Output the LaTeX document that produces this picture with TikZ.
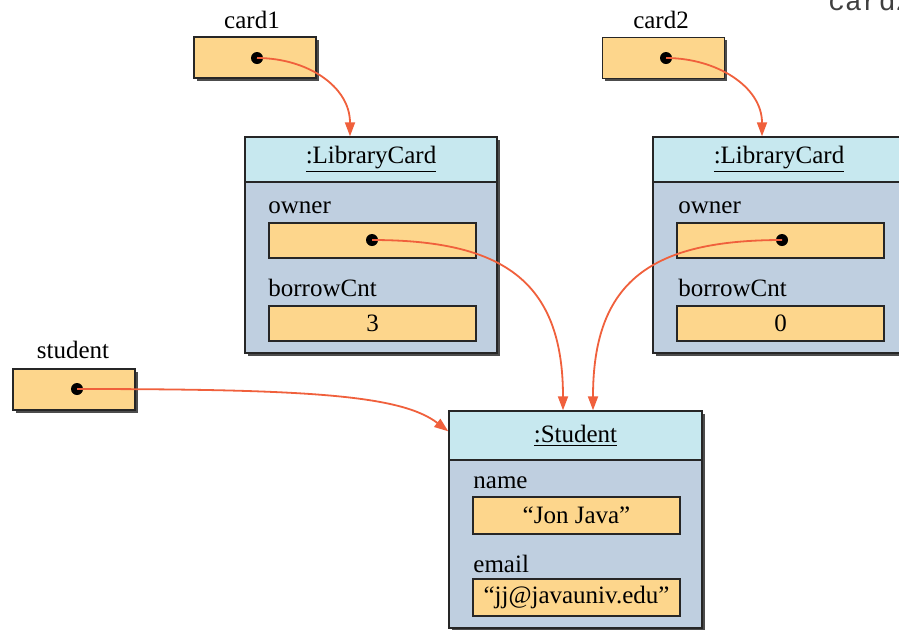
\documentclass[tikz,border=0pt]{standalone}
\usepackage{fontspec}
\setmainfont{Liberation Serif}
\setmonofont{Liberation Mono}
\usetikzlibrary{arrows.meta,shadows}
\definecolor{fieldc}{HTML}{FDD68C}
\definecolor{headc}{HTML}{C7E8EF}
\definecolor{bodyc}{HTML}{BFCFE0}
\definecolor{refc}{HTML}{F0603C}
\newcommand\myfs{\fontsize{12.5}{15}\selectfont}
\tikzset{
 shad/.style={drop shadow={shadow xshift=1.4pt,shadow yshift=-1.4pt,fill=black!70,opacity=1}},
 varbox/.style={draw=black!85,line width=0.7pt,fill=fieldc,minimum width=61pt,minimum height=20.5pt,shad,inner sep=0},
 fieldbox/.style={draw=black!85,line width=0.7pt,fill=fieldc,minimum width=103.5pt,minimum height=17.5pt,inner sep=0,font=\myfs},
 objbox/.style={draw=black!85,line width=0.7pt,fill=bodyc,shad,inner sep=0,minimum width=126pt,minimum height=108pt},
 headbox/.style={draw=black!85,line width=0.7pt,fill=headc,inner sep=0,minimum width=126pt,font=\myfs},
 lbl/.style={anchor=base west,inner sep=0,font=\myfs},
 vlbl/.style={anchor=base,inner sep=0,font=\myfs},
 refdot/.style={circle,fill=black,inner sep=0,minimum size=6pt},
 refarrow/.style={draw=refc,line width=0.9pt,-{Triangle[length=7pt,width=5pt]}}
}
\begin{document}
\begin{tikzpicture}[x=0.5pt,y=-0.5pt]
\clip (0,0) rectangle (899,629);
\fill[white] (0,0) rectangle (899,629);
% partial label at the top right
\node[anchor=base west,inner sep=0,font=\ttfamily\fontsize{14}{16}\selectfont,text=black!75] (cardtr) at (828,10) {card2};
% variables
\node[varbox] (card1) at (255,57.5) {};
\node[vlbl] (card1l) at (252,28) {card1};
\node[refdot] (d1) at (257,58) {};
\node[varbox] (card2) at (663.5,58) {};
\node[vlbl] (card2l) at (661,28) {card2};
\node[refdot] (d2) at (666,58) {};
\node[varbox] (stud) at (74,389.5) {};
\node[vlbl] (studl) at (73,358) {student};
\node[refdot] (d3) at (77,389) {};
% LibraryCard 1
\node[objbox] (lc1) at (371,245) {};
\node[headbox,minimum height=22.5pt] (lc1h) at (371,159.5) {\underline{:LibraryCard}};
\node[lbl] (lc1o) at (268,213) {owner};
\node[fieldbox] (lc1of) at (372.5,240.5) {};
\node[refdot] (d4) at (372,240) {};
\node[lbl] (lc1b) at (268,296) {borrowCnt};
\node[fieldbox] (lc1bf) at (372.5,323.5) {3};
% LibraryCard 2
\node[objbox] (lc2) at (779,245) {};
\node[headbox,minimum height=22.5pt] (lc2h) at (779,159.5) {\underline{:LibraryCard}};
\node[lbl] (lc2o) at (678,213) {owner};
\node[fieldbox] (lc2of) at (780.5,240.5) {};
\node[refdot] (d5) at (782,240) {};
\node[lbl] (lc2b) at (678,296) {borrowCnt};
\node[fieldbox] (lc2bf) at (780.5,323.5) {0};
% Student
\node[objbox,minimum width=126.5pt,minimum height=108.5pt] (st) at (575.5,519.5) {};
\node[headbox,minimum width=126.5pt,minimum height=24.5pt] (sth) at (575.5,435.5) {\underline{:Student}};
\node[lbl] (stn) at (473,488) {name};
\node[fieldbox,minimum height=18.5pt] (stnf) at (576.5,515.5) {``Jon Java''};
\node[lbl] (ste) at (473,572) {email};
\node[fieldbox,minimum height=18.5pt] (stef) at (576.5,597.5) {``jj@javauniv.edu''};
% references
\draw[refarrow] (d1.center) .. controls +(50,0) and +(0,-50) .. ([xshift=-10.5pt]lc1h.north);
\draw[refarrow] (d2.center) .. controls +(50,0) and +(0,-50) .. ([xshift=-8.5pt]lc2h.north);
\draw[refarrow] (d4.center) .. controls +(130,0) and +(0,-130) .. ([xshift=-6.25pt]sth.north);
\draw[refarrow] (d5.center) .. controls +(-130,0) and +(0,-130) .. ([xshift=8.75pt]sth.north);
\draw[refarrow] (d3.center) .. controls +(233,0) and +(-47,-36) .. ([yshift=-10.5pt]sth.north west);
\end{tikzpicture}
\end{document}
